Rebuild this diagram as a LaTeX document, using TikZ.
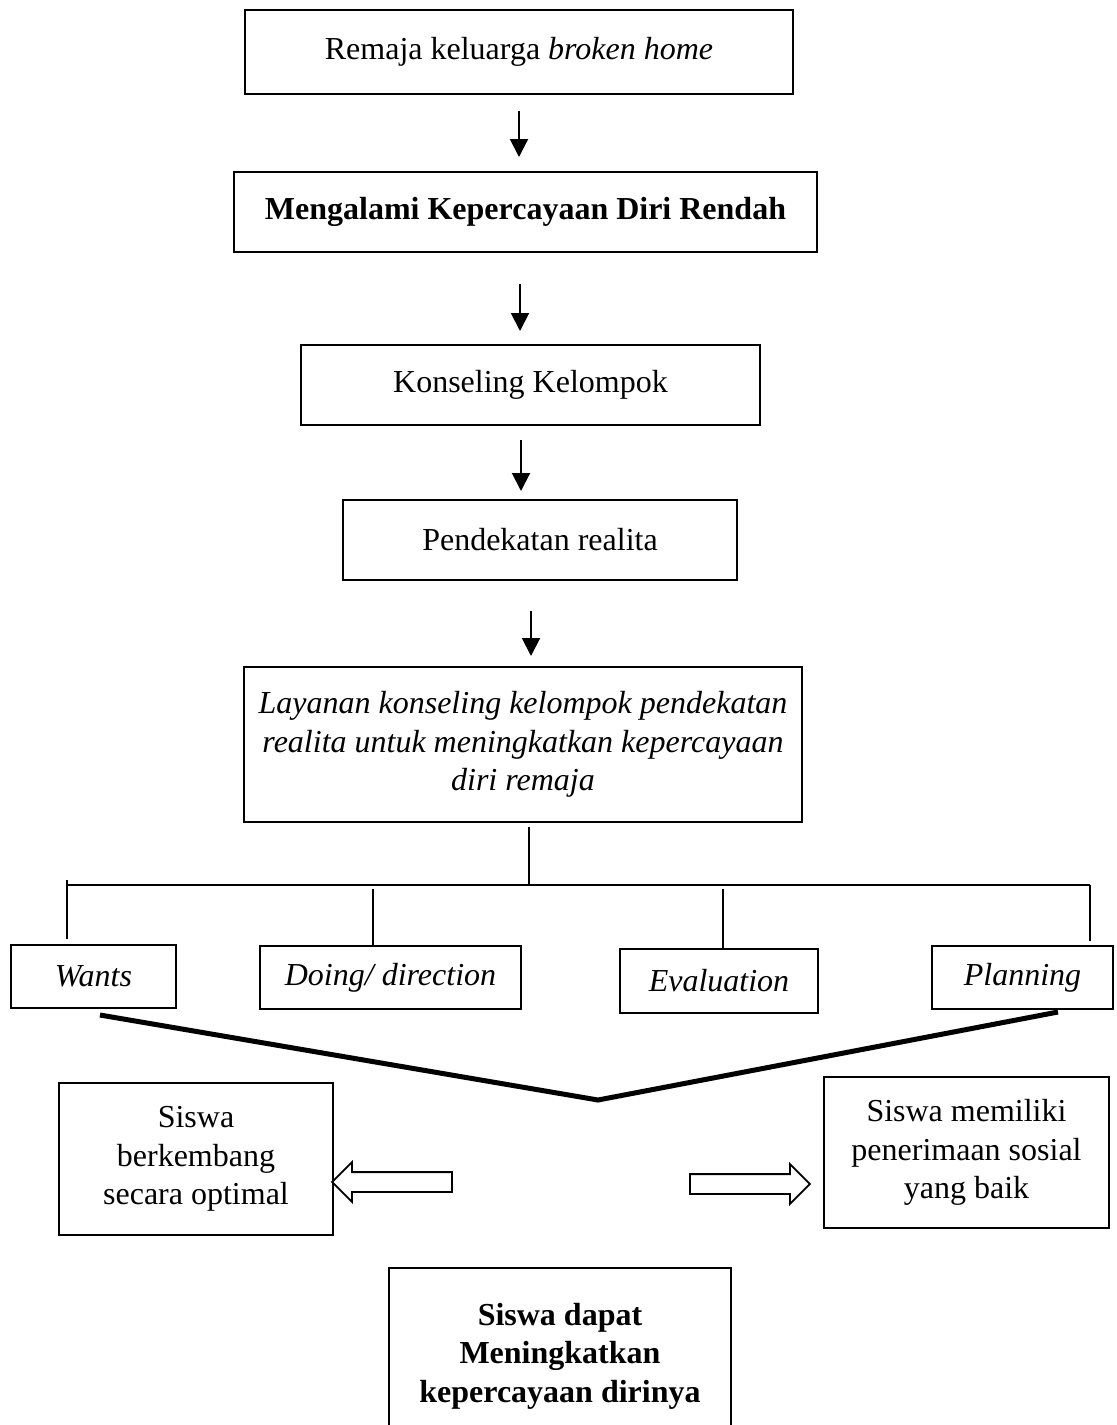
\documentclass[tikz,border=0pt]{standalone}
\usepackage{fontspec}
\setmainfont{Liberation Serif}
\usetikzlibrary{arrows.meta,shapes.arrows}

\begin{document}
\begin{tikzpicture}[x=0.5pt, y=-0.5pt,
    box/.style={draw, line width=1pt, align=center, inner sep=0pt,
      font=\fontsize{16pt}{19.2pt}\selectfont},
    arr/.style={line width=1pt, -{Triangle[width=9pt,length=9pt]}},
    tree/.style={line width=0.75pt},
    vline/.style={line width=2.5pt},
    hollow/.style={draw, line width=0.9pt, single arrow, inner sep=0pt,
      text height=4.5pt, text depth=4.5pt, minimum height=60pt,
      single arrow head extend=5pt, single arrow head indent=0pt}]

    \useasboundingbox (0,0) rectangle (1116,1425);

    % Define the main chain of boxes
    \node[box, minimum width=274pt, minimum height=42pt] (remaja) at (519,52) {Remaja keluarga \textit{broken home}};
    \node[box, minimum width=291.5pt, minimum height=40pt] (rendah) at (525.5,212) {\textbf{Mengalami Kepercayaan Diri Rendah}};
    \node[box, minimum width=229.5pt, minimum height=40pt] (konseling) at (530.5,385) {Konseling Kelompok};
    \node[box, minimum width=197pt, minimum height=40pt] (pendekatan) at (540,540) {Pendekatan realita};
    \node[box, minimum width=279pt, minimum height=77.5pt] (layanan) at (523,744.5) {\itshape Layanan konseling kelompok pendekatan\\ \itshape realita untuk meningkatkan kepercayaan\\ \itshape diri remaja};

    % Short arrows between the boxes
    \draw[arr, shorten <=8pt, shorten >=7pt] (remaja.south) -- (remaja.south |- rendah.north);
    \draw[arr, shorten <=15.5pt, shorten >=6.5pt] ([xshift=-2.75pt]rendah.south) -- ([xshift=-2.75pt]rendah.south |- konseling.north);
    \draw[arr, shorten <=7pt, shorten >=4pt] ([xshift=-4.75pt]konseling.south) -- ([xshift=-4.75pt]konseling.south |- pendekatan.north);
    \draw[arr, shorten <=15pt, shorten >=5pt] ([xshift=-4.5pt]pendekatan.south) -- ([xshift=-4.5pt]pendekatan.south |- layanan.north);

    % Define the four steps
    \node[box, minimum width=82.5pt, minimum height=31.5pt] (wants) at (93.5,976.5) {\textit{Wants}};
    \node[box, minimum width=130.5pt, minimum height=31.5pt] (doing) at (390.5,977.5) {\textit{Doing/ direction}};
    \node[box, minimum width=99pt, minimum height=32pt] (evaluation) at (719,981) {\textit{Evaluation}};
    \node[box, minimum width=90.5pt, minimum height=31.5pt] (planning) at (1022.5,977.5) {\textit{Planning}};

    % Branching lines
    \coordinate (hub) at (529,885);
    \coordinate (brL) at (67,885);
    \coordinate (brR) at (1090,885);
    \draw[tree] ([yshift=-2pt]layanan.south -| hub) -- (hub);
    \draw[tree] (brL) -- (brR);
    \draw[tree] ([yshift=2.5pt]brL) -- ([yshift=2.5pt]brL |- wants.north);
    \draw[tree] ([xshift=-8.75pt]doing.north) -- ++(0,-56);
    \draw[tree] ([xshift=2pt]evaluation.north) -- ++(0,-59);
    \draw[tree] (brR) -- ([yshift=2pt]brR |- planning.north);

    % Results
    \node[box, minimum width=137pt, minimum height=76pt] (optimal) at (196,1159) {Siswa\\ berkembang\\ secara optimal};
    \node[box, minimum width=142.5pt, minimum height=75.5pt] (sosial) at (966.5,1152.5) {Siswa memiliki\\ penerimaan sosial\\ yang baik};
    \node[box, anchor=north, minimum width=171pt, minimum height=88pt] (dirinya) at (560,1267) {\bfseries Siswa dapat\\ \bfseries Meningkatkan\\ \bfseries kepercayaan dirinya};

    % Lines from the steps to the results
    \coordinate (vtip) at (598,1100);
    \draw[vline] ([xshift=3.25pt,yshift=-3pt]wants.south) -- (vtip) -- ([xshift=17.75pt,yshift=-1pt]planning.south);

    % Hollow arrows
    \node[hollow, shape border rotate=180] (toleft) at (397,1182) {};
    \node[hollow] (toright) at (745,1184) {};
\end{tikzpicture}
\end{document}
